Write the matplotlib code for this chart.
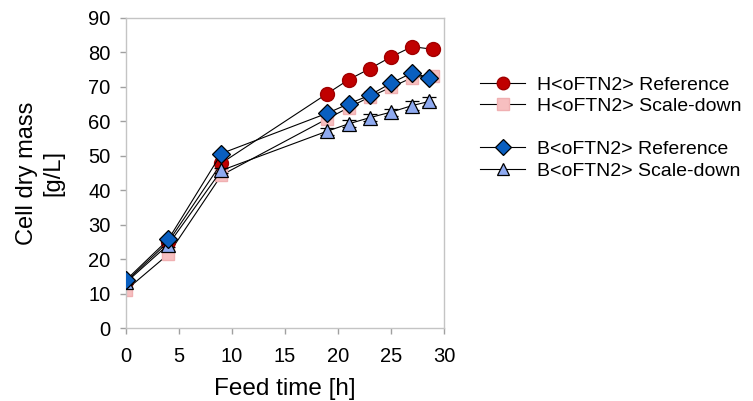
import numpy as np
import matplotlib
matplotlib.use("Agg")
import matplotlib.pyplot as plt
from matplotlib.lines import Line2D

plt.rcParams["font.family"] = ["Liberation Sans", "DejaVu Sans"]

# Feed time [h] and cell dry mass [g/L]
t_h_ref = [0, 4, 9, 19, 21, 23, 25, 27, 29]
cdm_h_ref = [13.5, 25.0, 47.8, 68.0, 72.0, 75.2, 78.6, 81.6, 80.8]

t_h_sd = [0, 4, 9, 19, 21, 23, 25, 27, 29]
cdm_h_sd = [11.0, 21.4, 44.3, 60.7, 63.9, 67.0, 69.8, 72.6, 73.2]

t_b_ref = [0, 4, 9, 19, 21, 23, 25, 27, 28.6]
cdm_b_ref = [13.9, 25.7, 50.6, 62.3, 65.0, 67.5, 71.0, 74.0, 72.6]

t_b_sd = [0, 4, 9, 19, 21, 23, 25, 27, 28.6]
cdm_b_sd = [13.2, 24.2, 45.7, 57.1, 59.2, 61.0, 62.6, 64.5, 65.7]
err_b_sd = [0.5, 0.6, 0.8, 1.0, 1.0, 1.0, 1.0, 1.2, 1.2]

labels = ["H<oFTN2> Reference", "H<oFTN2> Scale-down",
          "B<oFTN2> Reference", "B<oFTN2> Scale-down"]

fig = plt.figure(figsize=(7.53, 4.01), dpi=100)
ax = fig.add_axes([0.1673, 0.182, 0.4223, 0.774])

line_kw = dict(color="black", linewidth=0.8)

ax.plot(t_h_sd, cdm_h_sd, marker="s", markersize=9, markerfacecolor="#f7bfc0",
        markeredgecolor="#f0b0b2", zorder=2, **line_kw)
ax.plot(t_h_ref, cdm_h_ref, marker="o", markersize=10, markerfacecolor="#c00000",
        markeredgecolor="#a00000", zorder=3, **line_kw)
ax.errorbar(t_b_sd, cdm_b_sd, yerr=err_b_sd, marker="^", markersize=10,
            markerfacecolor="#8faaf0", markeredgecolor="black", markeredgewidth=0.9,
            ecolor="black", elinewidth=0.8, capsize=5, zorder=4, **line_kw)
ax.plot(t_b_ref, cdm_b_ref, marker="D", markersize=9, markerfacecolor="#0a5fc0",
        markeredgecolor="black", markeredgewidth=0.9, zorder=5, **line_kw)

ax.set_xlim(0, 30)
ax.set_ylim(0, 90)
ax.set_xticks(np.arange(0, 31, 5))
ax.set_yticks(np.arange(0, 91, 10))

for s in ax.spines.values():
    s.set_color("#c4c4c4")
    s.set_linewidth(1.0)
ax.tick_params(axis="both", color="#a0a0a0", length=4, width=1.0, labelsize=14.5)
ax.tick_params(axis="x", pad=10)
ax.tick_params(axis="y", pad=7)

ax.set_xlabel("Feed time [h]", fontsize=17.5, labelpad=8)
ax.set_ylabel("Cell dry mass\n[g/L]", fontsize=17, labelpad=17, linespacing=1.3)

# legend with a gap between the H and B groups
handles = [
    Line2D([], [], marker="o", markersize=9, markerfacecolor="#c00000",
           markeredgecolor="#a00000", **line_kw),
    Line2D([], [], marker="s", markersize=8, markerfacecolor="#f7bfc0",
           markeredgecolor="#f0b0b2", **line_kw),
    Line2D([], [], linestyle="none"),
    Line2D([], [], marker="D", markersize=8.5, markerfacecolor="#0a5fc0",
           markeredgecolor="black", markeredgewidth=0.9, **line_kw),
    Line2D([], [], marker="^", markersize=9, markerfacecolor="#8faaf0",
           markeredgecolor="black", markeredgewidth=0.9, **line_kw),
]
leg_labels = [labels[0], labels[1], "", labels[2], labels[3]]
fig.legend(handles, leg_labels, loc="upper left", bbox_to_anchor=(0.638, 0.81),
           frameon=False, fontsize=14, handlelength=2.3, handletextpad=0.6,
           labelspacing=0.2, borderpad=0, borderaxespad=0)

fig.savefig("out.png", dpi=100, facecolor="white")
plt.close(fig)
